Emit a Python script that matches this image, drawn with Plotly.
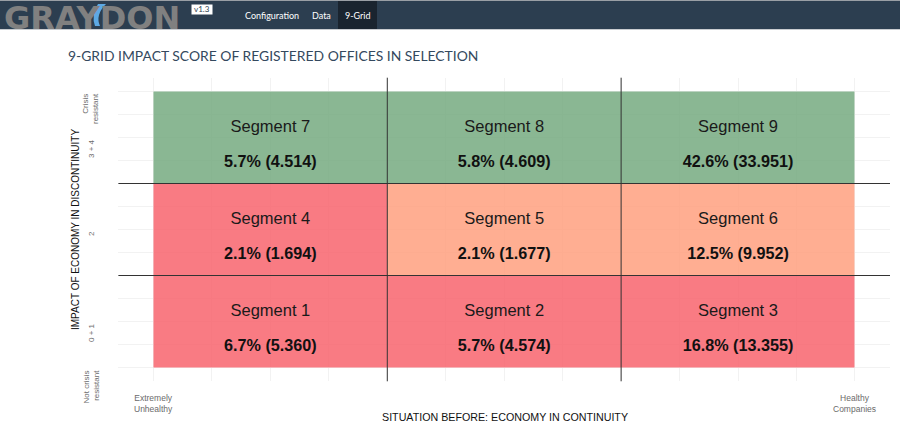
# 9-Grid impact score, recreated with plotly
import plotly.graph_objects as go

# ----------------------------- Data -----------------------------
segmentos = ["Segment 1", "Segment 2", "Segment 3",
             "Segment 4", "Segment 5", "Segment 6",
             "Segment 7", "Segment 8", "Segment 9"]
porcentajes = ["6.7%", "5.7%", "16.8%", "2.1%", "2.1%", "12.5%", "5.7%", "5.8%", "42.6%"]
cantidades = ["5.360", "4.574", "13.355", "1.694", "1.677", "9.952", "4.514", "4.609", "33.951"]
columnas = [0.5, 1.5, 2.5]
filas = [0.5, 1.5, 2.5]
clases = [[0, 0, 0], [0, 1, 1], [2, 2, 2]]  # 0 rojo, 1 naranja, 2 verde
divisiones = [1, 2]

ticks_y = [0, 0.5, 1.5, 2.5, 3]
etiquetas_y = ["Not crisis<br>resistant", "0 + 1", "2", "3 + 4", "Crisis<br>resistant"]
ticks_x = [0, 3]
etiquetas_x = ["Extremely<br>Unhealthy", "Healthy<br>Companies"]

menu = ["Configuration", "Data", "9-Grid"]
menu_x = [272, 321.5, 357.5]

# Tamaño de la imagen
W, H = 900, 423
px = lambda v: v / W
py = lambda v: 1 - v / H

fig = go.Figure()

# Celdas
fig.add_trace(go.Heatmap(
    x = columnas, y = filas, z = clases, zmin = 0, zmax = 2, opacity = 0.8, showscale = False,
    hoverinfo = 'skip',
    colorscale = [[0, '#f85b64'], [0.5, '#ff9a77'], [1, '#6da579']]))

# Textos de cada segmento
x_texto = [c for _ in filas for c in columnas]
y_texto = [f for f in filas for _ in columnas]
fig.add_trace(go.Scatter(
    x = x_texto, y = [v + 0.105 for v in y_texto], mode = 'text', text = segmentos,
    textfont = dict(family = 'Liberation Sans', size = 16.5, color = '#1a1a1a'),
    hoverinfo = 'skip', showlegend = False))
fig.add_trace(go.Scatter(
    x = x_texto, y = [v - 0.275 for v in y_texto], mode = 'text',
    text = ['<b>' + p + ' (' + c + ')</b>' for p, c in zip(porcentajes, cantidades)],
    textfont = dict(family = 'Liberation Sans', size = 16.2, color = '#111111'),
    hoverinfo = 'skip', showlegend = False))

# ----------------------------- Barra superior -----------------------------
formas = [
    dict(type = 'rect', x0 = 0, x1 = 1, y0 = py(29), y1 = 1, fillcolor = '#2c3e50', line_width = 0),
    dict(type = 'rect', x0 = 0, x1 = 1, y0 = py(1), y1 = 1, fillcolor = '#9a9fa5', line_width = 0),
    dict(type = 'rect', x0 = 0, x1 = 1, y0 = py(30), y1 = py(29), fillcolor = '#c9ccd0', line_width = 0),
    dict(type = 'rect', x0 = px(338), x1 = px(377), y0 = py(29), y1 = py(1), fillcolor = '#1a242f', line_width = 0),
    dict(type = 'rect', x0 = px(193), x1 = px(211), y0 = py(13), y1 = py(6), fillcolor = 'white',
         line = dict(color = 'white', width = 3)),
]
for f in formas:
    fig.add_shape(xref = 'paper', yref = 'paper', opacity = 1, **f)

textos = [
    dict(text = '<b>GRAYDON</b>', x = px(2), y = py(17.5), xanchor = 'left',
         font = dict(family = 'DejaVu Sans', size = 32, color = '#808080')),
    dict(text = 'v1.3', x = px(202), y = py(9.5),
         font = dict(family = 'Lato', size = 8, color = '#2c3e50')),
    dict(text = '9-GRID IMPACT SCORE OF REGISTERED OFFICES IN SELECTION', x = px(66), y = py(56), xanchor = 'left',
         font = dict(family = 'Lato', size = 13.9, color = '#34495e')),
    dict(text = 'SITUATION BEFORE: ECONOMY IN CONTINUITY', x = px(505), y = py(416.5),
         font = dict(family = 'Liberation Sans', size = 10.7, color = '#111111')),
    dict(text = 'IMPACT OF ECONOMY IN DISCONTINUITY', x = px(75), y = py(230), textangle = -90,
         font = dict(family = 'Liberation Sans', size = 10, color = '#111111')),
]
for nombre, pos in zip(menu, menu_x):
    textos.append(dict(text = nombre, x = px(pos), y = py(15),
                       font = dict(family = 'Lato', size = 9, color = 'white')))

anotaciones = []
for t in textos:
    base = dict(xref = 'paper', yref = 'paper', showarrow = False, xanchor = 'center', yanchor = 'middle')
    base.update(t)
    anotaciones.append(base)

# Etiquetas de los ejes, cuelgan por debajo de la marca
for v, t in zip(ticks_y, etiquetas_y):
    anotaciones.append(dict(text = t, xref = 'paper', x = px(91), xanchor = 'center', yref = 'y', y = v, yanchor = 'top',
                            textangle = -90, showarrow = False, align = 'right',
                            font = dict(family = 'Liberation Sans', size = 8, color = '#6b6b6b')))
for v, t in zip(ticks_x, etiquetas_x):
    anotaciones.append(dict(text = t, xref = 'x', x = v, xanchor = 'center', yref = 'paper', y = py(403), yanchor = 'middle',
                            showarrow = False,
                            font = dict(family = 'Liberation Sans', size = 8.5, color = '#6b6b6b')))

fig.update_layout(
    width = W, height = H, template = 'simple_white', showlegend = False,
    margin = dict(l = 0, r = 0, t = 0, b = 0),
    plot_bgcolor = 'white', paper_bgcolor = 'white',
    annotations = anotaciones,
    xaxis = dict(domain = [px(118.4), px(890)], range = [-0.15, 3.15], tick0 = 0, dtick = 0.25,
                 showgrid = True, gridcolor = '#f2f2f2', gridwidth = 1, zeroline = False,
                 showticklabels = False, ticks = '', showline = False),
    yaxis = dict(domain = [py(381.3), py(77.7)], range = [-0.15, 3.15], tick0 = 0, dtick = 0.25,
                 showgrid = True, gridcolor = '#f2f2f2', gridwidth = 1, zeroline = False,
                 showticklabels = False, ticks = '', showline = False))

# Lineas divisorias
for d in divisiones:
    fig.add_vline(x = d, opacity = 1, line = dict(color = '#333333', width = 1))
    fig.add_hline(y = d, opacity = 1, line = dict(color = '#333333', width = 1))

# Brazo azul de la Y del logo
fig.add_shape(type = 'path', xref = 'paper', yref = 'paper', opacity = 1, fillcolor = '#5da9e4', line_width = 0,
              path = f'M {px(106)} {py(4)} L {px(98)} {py(4)} Q {px(91)} {py(15)} {px(95)} {py(26)} '
                     f'L {px(100)} {py(26)} Q {px(95)} {py(15)} {px(106)} {py(4)} Z')

fig.write_html("out.html", post_script = "document.body.style.margin='0';", config = dict(displayModeBar = False))
